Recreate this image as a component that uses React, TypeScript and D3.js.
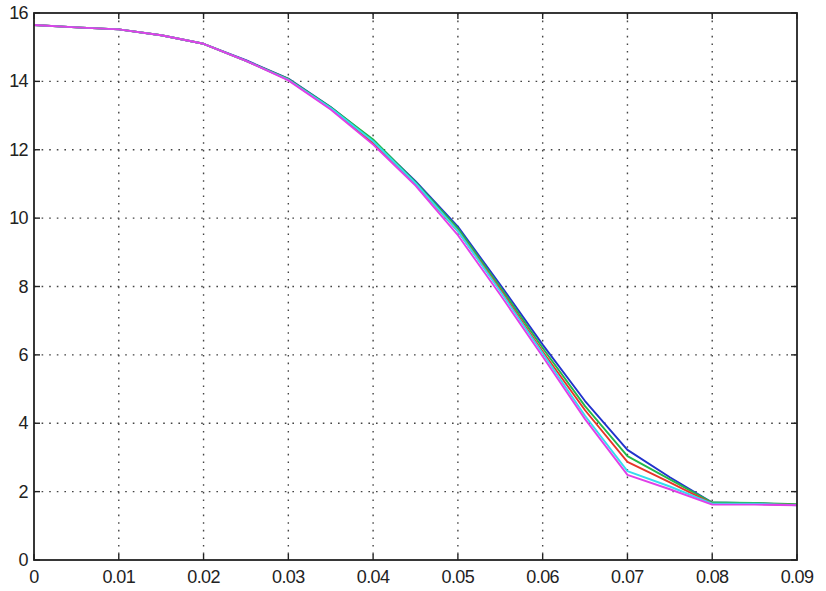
import React from "react";
import * as d3 from "d3";

const xValues = [0, 0.005, 0.01, 0.015, 0.02, 0.025, 0.03, 0.035, 0.04, 0.045, 0.05, 0.055, 0.06, 0.065, 0.07, 0.075, 0.08, 0.085, 0.09];

const seriesBlue = [15.65, 15.58, 15.52, 15.35, 15.1, 14.62, 14.08, 13.25, 12.27, 11.08, 9.75, 8.05, 6.3, 4.65, 3.22, 2.42, 1.68, 1.66, 1.61];
const seriesGreen = [15.65, 15.58, 15.52, 15.35, 15.1, 14.6, 14.07, 13.24, 12.3, 11.05, 9.7, 7.98, 6.2, 4.5, 3.04, 2.36, 1.68, 1.67, 1.63];
const seriesRed = [15.65, 15.58, 15.52, 15.35, 15.1, 14.6, 14.05, 13.2, 12.2, 11.0, 9.62, 7.9, 6.1, 4.38, 2.87, 2.27, 1.65, 1.64, 1.61];
const seriesCyan = [15.65, 15.58, 15.52, 15.35, 15.1, 14.6, 14.05, 13.22, 12.25, 11.02, 9.62, 7.86, 6.05, 4.22, 2.6, 2.15, 1.65, 1.65, 1.6];
const seriesMagenta = [15.65, 15.58, 15.52, 15.35, 15.1, 14.6, 14.03, 13.18, 12.15, 10.95, 9.5, 7.76, 5.95, 4.12, 2.49, 2.07, 1.62, 1.62, 1.6];

const seriesList = [seriesBlue, seriesGreen, seriesRed, seriesCyan, seriesMagenta];
const seriesColors = ["#2233cc", "#22b84a", "#e8342a", "#33ddee", "#e040e8"];

const xTicks = [0, 0.01, 0.02, 0.03, 0.04, 0.05, 0.06, 0.07, 0.08, 0.09];
const xTickLabels = ["0", "0.01", "0.02", "0.03", "0.04", "0.05", "0.06", "0.07", "0.08", "0.09"];
const yTicks = [0, 2, 4, 6, 8, 10, 12, 14, 16];

export default function App() {
  const W = 826, H = 591;
  const left = 34, right = 797, top = 13, bottom = 560;
  const x = d3.scaleLinear().domain([0, 0.09]).range([left, right]);
  const y = d3.scaleLinear().domain([0, 16]).range([bottom, top]);
  const line = d3.line<number>().x((_, i) => x(xValues[i])).y((d) => y(d));
  const font = "'Liberation Sans', Arial, sans-serif";
  const tick = 6;
  return (
    <svg width={W} height={H} style={{ position: "absolute", left: 0, top: 0, background: "#fff" }}>
      <rect x={0} y={0} width={W} height={H} fill="#fff" />
      {xTicks.slice(1, -1).map((t) => (
        <line key={"gx" + t} x1={x(t)} x2={x(t)} y1={top} y2={bottom} stroke="#444" strokeWidth={1.4} strokeDasharray="1.6,6" />
      ))}
      {yTicks.slice(1, -1).map((t) => (
        <line key={"gy" + t} x1={left} x2={right} y1={y(t)} y2={y(t)} stroke="#444" strokeWidth={1.4} strokeDasharray="1.6,6" />
      ))}
      {seriesList.map((s, i) => (
        <path key={"s" + i} d={line(s) || ""} fill="none" stroke={seriesColors[i]} strokeWidth={1.9} strokeLinejoin="round" />
      ))}
      {xTicks.map((t) => (
        <g key={"tx" + t}>
          <line x1={x(t)} x2={x(t)} y1={bottom} y2={bottom - tick} stroke="#222" strokeWidth={1.4} />
          <line x1={x(t)} x2={x(t)} y1={top} y2={top + tick} stroke="#222" strokeWidth={1.4} />
        </g>
      ))}
      {yTicks.map((t) => (
        <g key={"ty" + t}>
          <line x1={left} x2={left + tick} y1={y(t)} y2={y(t)} stroke="#222" strokeWidth={1.4} />
          <line x1={right} x2={right - tick} y1={y(t)} y2={y(t)} stroke="#222" strokeWidth={1.4} />
        </g>
      ))}
      <rect x={left} y={top} width={right - left} height={bottom - top} fill="none" stroke="#222" strokeWidth={1.8} />
      {xTicks.map((t, i) => (
        <text key={"lx" + t} x={x(t)} y={bottom + 23} textAnchor="middle" fontFamily={font} fontSize={18} letterSpacing={-0.6} fill="#222">
          {xTickLabels[i]}
        </text>
      ))}
      {yTicks.map((t) => (
        <text key={"ly" + t} x={left - 6} y={y(t) + 6} textAnchor="end" fontFamily={font} fontSize={18} letterSpacing={-0.6} fill="#222">
          {t}
        </text>
      ))}
    </svg>
  );
}
